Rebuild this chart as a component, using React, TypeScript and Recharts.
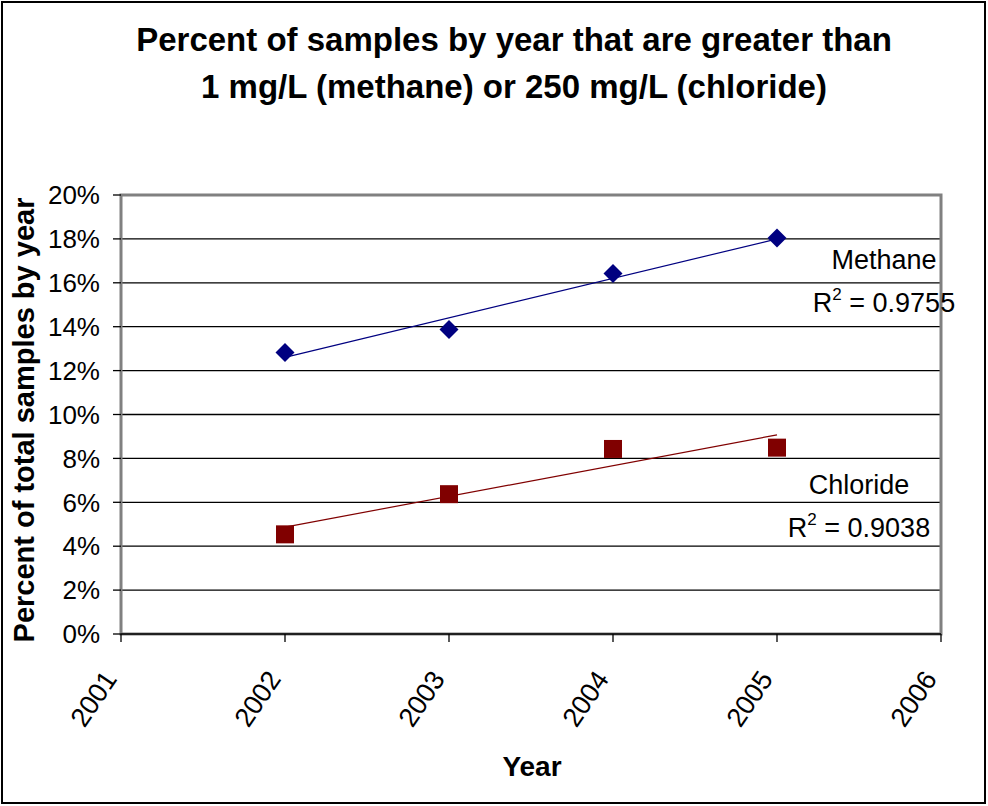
import React from 'react';
import { ComposedChart, Scatter, Line, XAxis, YAxis, CartesianGrid, ReferenceArea } from 'recharts';

const years = [2002, 2003, 2004, 2005];
const methane = [12.83, 13.87, 16.42, 18.04];
const chloride = [4.54, 6.37, 8.43, 8.49];
const trendYears = [2002, 2005];
const methaneTrend = [12.6, 18.0];
const chlorideTrend = [4.87, 9.07];
const xTicks = [2001, 2002, 2003, 2004, 2005, 2006];
const yTicks = [0, 2, 4, 6, 8, 10, 12, 14, 16, 18, 20];
const titleLines = ['Percent of samples by year that are greater than', '1 mg/L (methane) or 250 mg/L (chloride)'];
const methaneLabel = 'Methane';
const methaneR2 = '0.9755';
const chlorideLabel = 'Chloride';
const chlorideR2 = '0.9038';

const FONT = '"Liberation Sans", Arial, sans-serif';
const NAVY = '#000080';
const MAROON = '#800000';

const methanePts = years.map((y, i) => ({ year: y, value: methane[i] }));
const chloridePts = years.map((y, i) => ({ year: y, value: chloride[i] }));
const methaneTrendPts = trendYears.map((y, i) => ({ year: y, value: methaneTrend[i] }));
const chlorideTrendPts = trendYears.map((y, i) => ({ year: y, value: chlorideTrend[i] }));

const Diamond = (props: any) => {
  const { cx, cy } = props;
  const r = 9.5;
  return <polygon points={`${cx},${cy - r} ${cx + r},${cy} ${cx},${cy + r} ${cx - r},${cy}`} fill={NAVY} />;
};

const Square = (props: any) => {
  const { cx, cy } = props;
  const s = 18;
  return <rect x={cx - s / 2} y={cy - s / 2} width={s} height={s} fill={MAROON} />;
};

const XTick = (props: any) => {
  const { x, y, payload } = props;
  return (
    <g transform={`translate(${x},${y})`}>
      <text
        x={0}
        y={0}
        transform="translate(-3, 35) rotate(-56)"
        textAnchor="end"
        fontSize={27}
        fontFamily={FONT}
        fill="#000"
      >
        {payload.value}
      </text>
    </g>
  );
};

const R2Text = ({ x, y, value }: { x: number; y: number; value: string }) => (
  <text x={x} y={y} textAnchor="middle" fontSize={27} fontFamily={FONT} fill="#000">
    R
    <tspan fontSize={17} dy={-12}>2</tspan>
    <tspan dy={12}>{` = ${value}`}</tspan>
  </text>
);

export default function App() {
  return (
    <div style={{ position: 'absolute', left: 0, top: 0, width: 988, height: 806, background: '#fff' }}>
      <ComposedChart
        width={988}
        height={806}
        margin={{ top: 195, right: 47, bottom: 72, left: 40 }}
      >
        <CartesianGrid horizontal={true} vertical={false} stroke="#000" strokeWidth={1.3} />
        <XAxis
          type="number"
          dataKey="year"
          domain={[2001, 2006]}
          ticks={xTicks}
          interval={0}
          height={100}
          tickSize={8}
          tickLine={{ stroke: '#000', strokeWidth: 1.3 }}
          axisLine={{ stroke: '#000', strokeWidth: 1.5 }}
          tick={<XTick />}
          allowDecimals={false}
        />
        <YAxis
          type="number"
          dataKey="value"
          domain={[0, 20]}
          ticks={yTicks}
          interval={0}
          width={81}
          tickSize={8}
          tickMargin={13}
          tickLine={{ stroke: '#000', strokeWidth: 1.3 }}
          axisLine={false}
          tickFormatter={(v: number) => `${v}%`}
          tick={{ fontSize: 26, fontFamily: FONT, fill: '#000' }}
        />
        <ReferenceArea x1={2001} x2={2006} y1={0} y2={20} fill="none" fillOpacity={0} stroke="#808080" strokeWidth={3} strokeOpacity={1} />
        <Line data={methaneTrendPts} dataKey="value" stroke={NAVY} strokeWidth={1.2} dot={false} activeDot={false} isAnimationActive={false} />
        <Line data={chlorideTrendPts} dataKey="value" stroke={MAROON} strokeWidth={1.2} dot={false} activeDot={false} isAnimationActive={false} />
        <Scatter data={methanePts} dataKey="value" shape={<Diamond />} isAnimationActive={false} />
        <Scatter data={chloridePts} dataKey="value" shape={<Square />} isAnimationActive={false} />
      </ComposedChart>
      <svg width={988} height={806} style={{ position: 'absolute', left: 0, top: 0, pointerEvents: 'none' }}>
        <rect x={2} y={2} width={983} height={801} fill="none" stroke="#000" strokeWidth={2} />
        <text x={514} y={51} textAnchor="middle" fontSize={33} fontWeight="bold" fontFamily={FONT} fill="#000">{titleLines[0]}</text>
        <text x={514} y={98} textAnchor="middle" fontSize={33} fontWeight="bold" fontFamily={FONT} fill="#000">{titleLines[1]}</text>
        <text x={34} y={420} transform="rotate(-90, 34, 420)" textAnchor="middle" fontSize={29} fontWeight="bold" fontFamily={FONT} fill="#000">
          Percent of total samples by year
        </text>
        <text x={532} y={776} textAnchor="middle" fontSize={28} fontWeight="bold" fontFamily={FONT} fill="#000">Year</text>
        <text x={884} y={269} textAnchor="middle" fontSize={27} fontFamily={FONT} fill="#000">{methaneLabel}</text>
        <R2Text x={884} y={312} value={methaneR2} />
        <text x={859} y={494} textAnchor="middle" fontSize={27} fontFamily={FONT} fill="#000">{chlorideLabel}</text>
        <R2Text x={859} y={537} value={chlorideR2} />
      </svg>
    </div>
  );
}
